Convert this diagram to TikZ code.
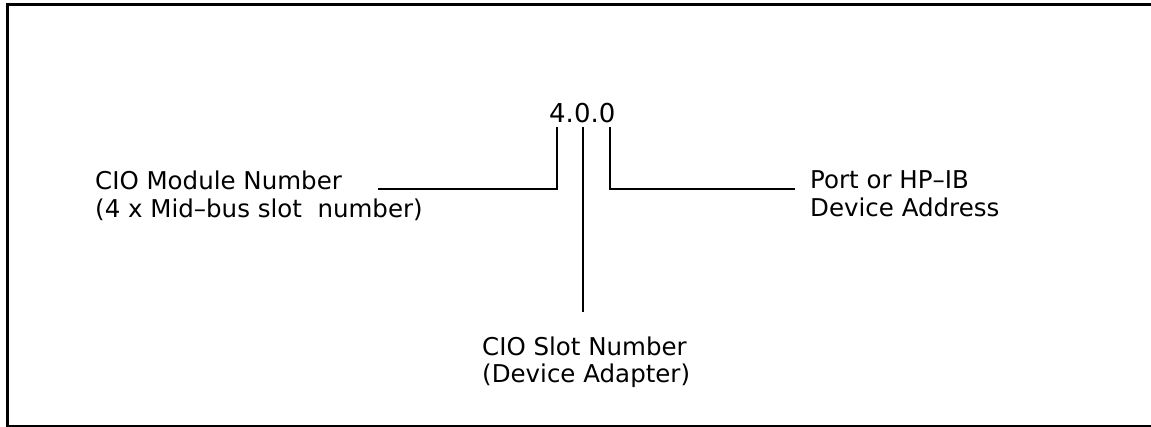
\documentclass[tikz,border=0pt]{standalone}
\usepackage{fontspec}
\setmainfont{DejaVu Sans}
\usetikzlibrary{positioning, calc}
\tikzstyle{label} = [inner sep=0pt, align=left, font=\fontsize{24.5}{28}\selectfont]
\tikzstyle{addr} = [inner sep=0pt, font=\fontsize{26}{30}\selectfont]
\tikzstyle{leader} = [line width=2.4pt]
\tikzstyle{frame} = [line width=3pt]

\begin{document}
\begin{tikzpicture}[x=1pt, y=-1pt]
    \useasboundingbox (0,0) rectangle (1151,427);
    \draw [frame] (1151,5) -| (7,426) -- (1151,426);

    % base anchor sits on the last text line
    \node (num) [addr, anchor=base west] at (549,123) {4.0.0};
    \node (mod) [label, anchor=base west] at (95,218) {CIO Module Number\\(4 x Mid--bus slot \ number)};
    \node (port) [label, anchor=base west] at (810,217) {Port or HP--IB\\Device Address};
    \node (slot) [label, anchor=base west] at (482,383) {CIO Slot Number\\(Device Adapter)};

    \coordinate (a1) at (557,127);
    \coordinate (a2) at (378,189);
    \coordinate (b1) at (583,127);
    \coordinate (b2) at (583,312);
    \coordinate (c1) at (610,127);
    \coordinate (c2) at (795,189);

    \draw [leader] (a1) |- (a2);
    \draw [leader] (b1) -- (b2);
    \draw [leader] (c1) |- (c2);
\end{tikzpicture}
\end{document}
